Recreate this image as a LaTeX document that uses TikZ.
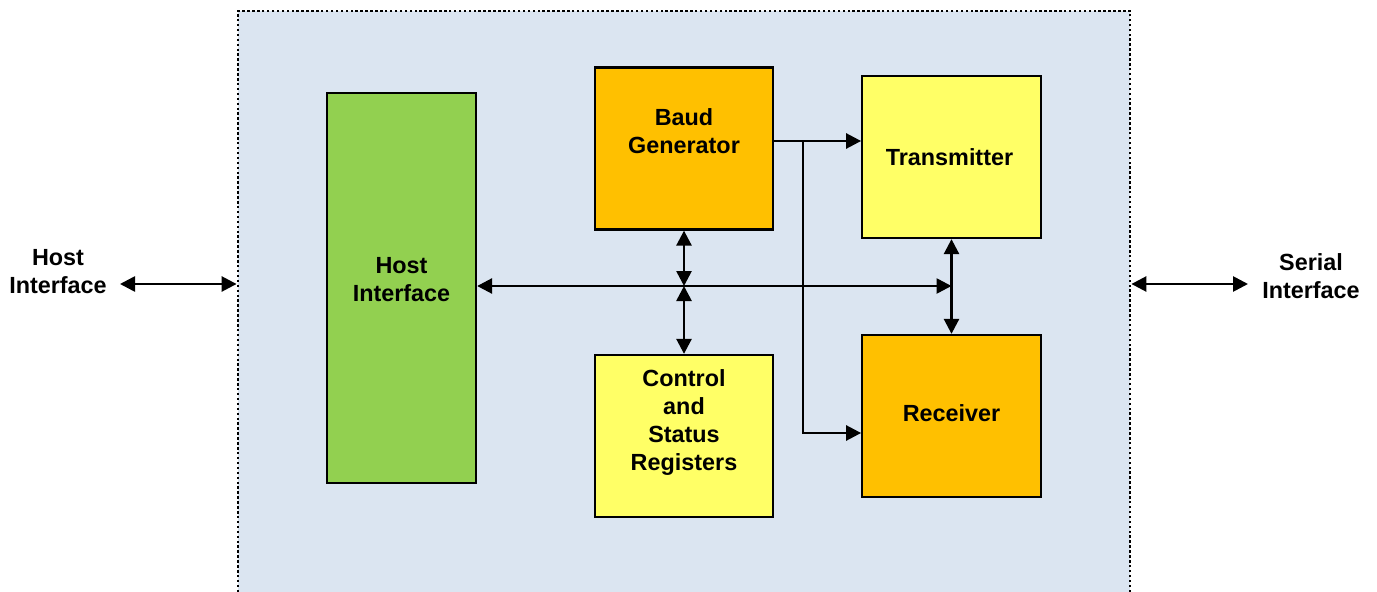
\documentclass[tikz,border=0pt]{standalone}
\usepackage{fontspec}
\setmainfont{Liberation Sans}
\usetikzlibrary{arrows.meta}
\definecolor{chipblue}{HTML}{DBE5F1}
\definecolor{hostgreen}{HTML}{92D050}
\definecolor{baudorange}{HTML}{FFC000}
\definecolor{regyellow}{HTML}{FFFF66}
\tikzset{
	block/.style={draw, line width=1.3pt, minimum width=3.57cm, minimum height=3.24cm, inner sep=0},
	caption/.style={align=center, inner sep=0, font=\bfseries\fontsize{13.3}{16}\selectfont},
	sig/.style={line width=1.5pt, -{Triangle[length=0.3cm,width=0.3cm]}},
	bisig/.style={line width=1.5pt, {Triangle[length=0.3cm,width=0.3cm]}-{Triangle[length=0.3cm,width=0.3cm]}}
}

\begin{document}
\begin{tikzpicture}
		\useasboundingbox (0,0) rectangle (27.54,-11.84);
		\node[draw, fill=chipblue, line width=1.6pt, dash pattern=on 1.4pt off 1.4pt, minimum width=17.84cm, minimum height=12.38cm, inner sep=0] (chip) at (13.68,-6.41) {};
		\node[block, fill=hostgreen, minimum width=2.98cm, minimum height=7.8cm] (host) at (8.03,-5.76) {};
		\node[block, fill=baudorange] (baud) at (13.68,-2.97) {};
		\node[block, fill=regyellow] (trans) at (19.03,-3.14) {};
		\node[block, fill=regyellow] (regs) at (13.68,-8.72) {};
		\node[block, fill=baudorange] (recv) at (19.03,-8.32) {};
		\node[caption] (host text) at ([yshift=0.17cm]host) {Host\\Interface};
		\node[caption] (baud text) at ([yshift=0.34cm]baud) {Baud\\Generator};
		\node[caption] (trans text) at ([xshift=-0.04cm]trans) {Transmitter};
		\node[caption] (regs text) at ([yshift=0.27cm]regs) {Control\\and\\Status\\Registers};
		\node[caption] (recv text) at ([yshift=0.06cm]recv) {Receiver};
		\node[caption] (host pin) at (1.16,-5.44) {Host\\Interface};
		\node[caption] (serial pin) at (26.22,-5.52) {Serial\\Interface};
		% internal bus
		\coordinate (bus) at (baud.south |- 0,-5.72);
		\draw[bisig] (host.east |- bus) -- (trans.south |- bus);
		\draw[bisig] (baud.south) -- (bus);
		\draw[bisig] (bus) -- (regs.north);
		\draw[bisig] (trans.south) -- (recv.north);
		% baud clock
		\coordinate (clk) at (16.06,-2.82);
		\draw[sig] (baud.east |- clk) -- (trans.west |- clk);
		\draw[sig] (clk) |- ([yshift=-0.34cm]recv.west);
		% outside pins
		\coordinate (host end) at (2.4,-5.68);
		\coordinate (serial end) at (24.96,-5.68);
		\draw[bisig] (host end) -- (host end -| chip.west);
		\draw[bisig] (chip.east |- serial end) -- (serial end);
	\end{tikzpicture}
\end{document}
